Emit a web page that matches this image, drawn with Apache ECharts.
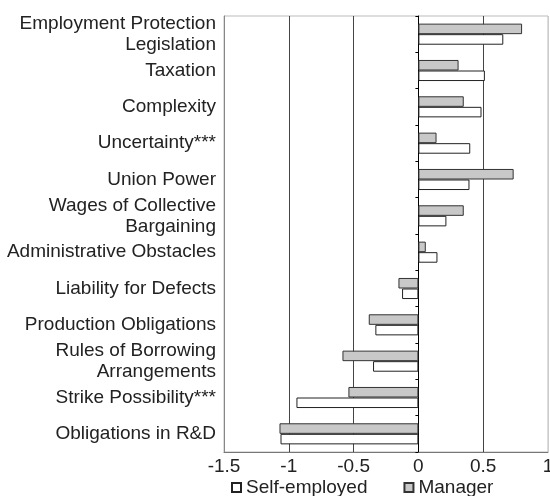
<!DOCTYPE html>
<html>
<head>
<meta charset="utf-8">
<script src="https://cdn.jsdelivr.net/npm/echarts@6/dist/echarts.min.js"></script>
<style>
html,body{margin:0;padding:0;background:#fff;}
#chart{width:550px;height:496px;}
</style>
</head>
<body>
<div id="chart"></div>
<script>
const categories = [
  "Employment Protection\nLegislation",
  "Taxation",
  "Complexity",
  "Uncertainty***",
  "Union Power",
  "Wages of Collective\nBargaining",
  "Administrative Obstacles",
  "Liability for Defects",
  "Production Obligations",
  "Rules of Borrowing\nArrangements",
  "Strike Possibility***",
  "Obligations in R&D"
];
const managerValues = [0.80, 0.31, 0.35, 0.14, 0.735, 0.35, 0.057, -0.154, -0.383, -0.586, -0.54, -1.072];
const selfEmployedValues = [0.655, 0.513, 0.487, 0.40, 0.394, 0.216, 0.147, -0.126, -0.332, -0.35, -0.941, -1.064];
const xTicks = [-1.5, -1, -0.5, 0, 0.5, 1];

const FONT = '"Liberation Sans", Arial, Helvetica, sans-serif';
const chart = echarts.init(document.getElementById('chart'), null, {renderer: 'canvas'});
chart.setOption({
  animation: false,
  textStyle: {fontFamily: FONT},
  grid: {
    left: 224, right: 2, top: 16, bottom: 44,
    outerBoundsMode: 'none', containLabel: false,
    show: true, borderColor: '#bbb', borderWidth: 1, backgroundColor: 'transparent'
  },
  legend: {
    data: ['Self-employed', 'Manager'],
    left: 231, top: 478, padding: 0,
    itemWidth: 9, itemHeight: 9, itemGap: 36,
    icon: 'rect',
    textStyle: {fontSize: 19, color: '#222', fontFamily: FONT}
  },
  xAxis: {
    type: 'value', min: -1.5, max: 1, interval: 0.5,
    axisLine: {show: true, onZero: false, lineStyle: {color: '#777', width: 1}},
    axisTick: {show: false},
    splitLine: {show: true, lineStyle: {color: ['#888', '#444', '#444', '#444', '#444', '#ccc'], width: 1}},
    axisLabel: {
      fontSize: 19, color: '#222', margin: 5, fontFamily: FONT,
      formatter: v => (xTicks.includes(v) ? String(v) : '')
    }
  },
  yAxis: [
    {
      type: 'category', data: categories, inverse: true,
      axisLine: {show: true, onZero: false, lineStyle: {color: '#888'}},
      axisTick: {show: false},
      axisLabel: {fontSize: 19, color: '#222', margin: 8, lineHeight: 21, fontFamily: FONT, align: 'right'}
    },
    {
      type: 'category', data: categories, inverse: true, position: 'left',
      axisLine: {show: true, onZero: true, lineStyle: {color: '#000', width: 1}},
      axisTick: {show: true, length: 3, lineStyle: {color: '#000'}},
      axisLabel: {show: false}
    }
  ],
  series: [
    {
      name: 'Manager', type: 'bar', data: managerValues, yAxisIndex: 0,
      barGap: '0%', barCategoryGap: '42%',
      itemStyle: {color: '#c8c8c8', borderColor: '#333', borderWidth: 1}
    },
    {
      name: 'Self-employed', type: 'bar', data: selfEmployedValues, yAxisIndex: 0,
      barGap: '0%', barCategoryGap: '42%',
      itemStyle: {color: '#ffffff', borderColor: '#222', borderWidth: 1}
    }
  ]
});
</script>
</body>
</html>
